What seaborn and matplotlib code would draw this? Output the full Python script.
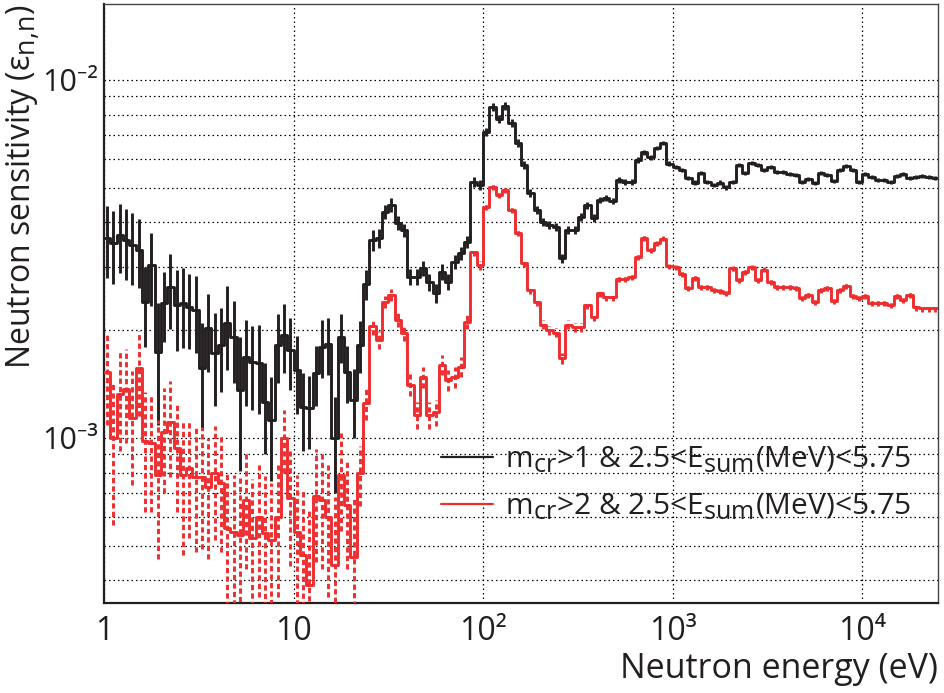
import numpy as np
import pandas as pd
import matplotlib
matplotlib.use("Agg")
import matplotlib.pyplot as plt
import matplotlib._mathtext as mathtext_engine
from matplotlib.lines import Line2D
from matplotlib.ticker import FixedLocator, LogLocator, NullFormatter
import seaborn as sns

# Histogram binning: 30 logarithmic bins per decade, 1 eV .. 10^4.4 eV
bins_per_decade = 30
n_bins = 132
log_e_min, log_e_max = 0.0, 4.4

# Neutron sensitivity, multiplicity > 1
sens_mcr1 = [
    3.62e-3, 3.50e-3, 3.69e-3, 3.57e-3, 3.46e-3, 3.35e-3, 2.40e-3, 3.04e-3, 1.74e-3, 2.38e-3,
    2.64e-3, 2.35e-3, 2.38e-3, 2.32e-3, 2.28e-3, 1.57e-3, 2.03e-3, 1.73e-3, 1.82e-3, 2.10e-3,
    1.92e-3, 1.36e-3, 1.68e-3, 1.63e-3, 1.62e-3, 1.26e-3, 1.12e-3, 1.82e-3, 1.94e-3, 1.76e-3,
    1.55e-3, 1.22e-3, 1.21e-3, 1.52e-3, 1.80e-3, 1.83e-3, 1.00e-3, 1.92e-3, 1.53e-3, 1.28e-3,
    1.82e-3, 2.69e-3, 3.57e-3, 3.62e-3, 4.28e-3, 4.47e-3, 3.98e-3, 3.81e-3, 2.82e-3, 2.82e-3,
    2.98e-3, 2.73e-3, 2.54e-3, 2.91e-3, 2.73e-3, 3.10e-3, 3.28e-3, 3.53e-3, 5.19e-3, 5.09e-3,
    7.16e-3, 8.41e-3, 7.78e-3, 8.46e-3, 7.58e-3, 6.67e-3, 5.79e-3, 4.84e-3, 4.33e-3, 4.01e-3,
    3.94e-3, 3.89e-3, 3.18e-3, 3.81e-3, 3.81e-3, 4.14e-3, 4.47e-3, 4.12e-3, 4.62e-3, 4.68e-3,
    4.59e-3, 5.26e-3, 5.19e-3, 5.19e-3, 5.98e-3, 6.29e-3, 6.09e-3, 6.46e-3, 6.67e-3, 5.83e-3,
    5.71e-3, 5.61e-3, 5.32e-3, 5.16e-3, 5.50e-3, 5.19e-3, 5.09e-3, 5.16e-3, 5.02e-3, 5.19e-3,
    5.79e-3, 5.50e-3, 5.86e-3, 5.79e-3, 5.61e-3, 5.71e-3, 5.53e-3, 5.53e-3, 5.46e-3, 5.43e-3,
    5.19e-3, 5.29e-3, 5.16e-3, 5.50e-3, 5.43e-3, 5.22e-3, 5.61e-3, 5.75e-3, 5.61e-3, 5.19e-3,
    5.46e-3, 5.36e-3, 5.26e-3, 5.26e-3, 5.19e-3, 5.39e-3, 5.46e-3, 5.32e-3, 5.36e-3, 5.39e-3,
    5.36e-3, 5.32e-3,
]
err_mcr1 = [
    0.82e-3, 0.80e-3, 0.80e-3, 0.80e-3, 0.78e-3, 0.73e-3, 0.60e-3, 0.70e-3, 0.65e-3, 0.53e-3,
    0.62e-3, 0.60e-3, 0.60e-3, 0.55e-3, 0.55e-3, 0.52e-3, 0.50e-3, 0.50e-3, 0.48e-3, 0.55e-3,
    0.50e-3, 0.55e-3, 0.45e-3, 0.43e-3, 0.45e-3, 0.36e-3, 0.36e-3, 0.40e-3, 0.42e-3, 0.40e-3,
    0.38e-3, 0.30e-3, 0.28e-3, 0.29e-3, 0.33e-3, 0.33e-3, 0.30e-3, 0.30e-3, 0.28e-3, 0.28e-3,
    0.30e-3, 0.26e-3, 0.25e-3, 0.22e-3, 0.20e-3, 0.20e-3, 0.18e-3, 0.16e-3, 0.15e-3, 0.15e-3,
    0.15e-3, 0.15e-3, 0.15e-3, 0.15e-3, 0.14e-3, 0.14e-3, 0.14e-3, 0.14e-3, 0.16e-3, 0.16e-3,
    0.18e-3, 0.20e-3, 0.19e-3, 0.20e-3, 0.18e-3, 0.16e-3, 0.14e-3, 0.12e-3, 0.11e-3, 0.10e-3,
    0.10e-3, 0.10e-3, 0.09e-3, 0.10e-3, 0.10e-3, 0.10e-3, 0.10e-3, 0.10e-3, 0.10e-3, 0.10e-3,
    0.10e-3, 0.10e-3, 0.10e-3, 0.10e-3, 0.10e-3, 0.10e-3, 0.10e-3, 0.10e-3, 0.10e-3, 0.09e-3,
    0.08e-3, 0.08e-3, 0.08e-3, 0.08e-3, 0.08e-3, 0.08e-3, 0.08e-3, 0.08e-3, 0.08e-3, 0.08e-3,
    0.08e-3, 0.08e-3, 0.08e-3, 0.08e-3, 0.08e-3, 0.08e-3, 0.08e-3, 0.08e-3, 0.08e-3, 0.08e-3,
    0.07e-3, 0.07e-3, 0.07e-3, 0.07e-3, 0.07e-3, 0.07e-3, 0.07e-3, 0.07e-3, 0.07e-3, 0.07e-3,
    0.07e-3, 0.07e-3, 0.07e-3, 0.07e-3, 0.07e-3, 0.07e-3, 0.07e-3, 0.07e-3, 0.07e-3, 0.07e-3,
    0.07e-3, 0.07e-3,
]

# Neutron sensitivity, multiplicity > 2
sens_mcr2 = [
    1.53e-3, 1.00e-3, 1.33e-3, 1.37e-3, 1.14e-3, 1.57e-3, 0.98e-3, 0.97e-3, 7.90e-4, 1.04e-3,
    1.11e-3, 9.40e-4, 7.90e-4, 8.24e-4, 7.80e-4, 7.80e-4, 7.30e-4, 8.00e-4, 7.50e-4, 5.61e-4,
    5.47e-4, 5.37e-4, 6.70e-4, 5.27e-4, 6.00e-4, 5.43e-4, 5.20e-4, 6.00e-4, 1.00e-3, 6.80e-4,
    5.47e-4, 4.71e-4, 3.89e-4, 6.89e-4, 6.70e-4, 6.00e-4, 4.42e-4, 7.90e-4, 6.50e-4, 4.65e-4,
    7.97e-4, 1.25e-3, 2.05e-3, 1.88e-3, 2.40e-3, 2.51e-3, 2.14e-3, 1.97e-3, 1.41e-3, 1.16e-3,
    1.48e-3, 1.16e-3, 1.18e-3, 1.60e-3, 1.45e-3, 1.48e-3, 1.58e-3, 2.11e-3, 3.31e-3, 3.04e-3,
    4.42e-3, 5.02e-3, 4.77e-3, 4.93e-3, 4.33e-3, 3.74e-3, 3.08e-3, 2.59e-3, 2.40e-3, 2.07e-3,
    2.00e-3, 1.97e-3, 1.67e-3, 2.07e-3, 2.04e-3, 2.04e-3, 2.35e-3, 2.18e-3, 2.54e-3, 2.48e-3,
    2.48e-3, 2.78e-3, 2.78e-3, 2.82e-3, 3.20e-3, 3.62e-3, 3.35e-3, 3.50e-3, 3.60e-3, 3.02e-3,
    3.00e-3, 2.87e-3, 2.62e-3, 2.80e-3, 2.64e-3, 2.64e-3, 2.59e-3, 2.57e-3, 2.54e-3, 2.98e-3,
    2.76e-3, 2.91e-3, 3.00e-3, 2.76e-3, 2.95e-3, 2.73e-3, 2.64e-3, 2.64e-3, 2.64e-3, 2.62e-3,
    2.46e-3, 2.51e-3, 2.40e-3, 2.59e-3, 2.62e-3, 2.41e-3, 2.59e-3, 2.66e-3, 2.50e-3, 2.46e-3,
    2.50e-3, 2.38e-3, 2.38e-3, 2.38e-3, 2.35e-3, 2.50e-3, 2.43e-3, 2.51e-3, 2.32e-3, 2.30e-3,
    2.30e-3, 2.30e-3,
]
err_mcr2 = [
    0.44e-3, 0.43e-3, 0.41e-3, 0.40e-3, 0.40e-3, 0.42e-3, 0.36e-3, 0.35e-3, 0.33e-3, 0.34e-3,
    0.33e-3, 0.32e-3, 0.32e-3, 0.30e-3, 0.30e-3, 0.29e-3, 0.27e-3, 0.28e-3, 0.27e-3, 0.24e-3,
    0.24e-3, 0.24e-3, 0.24e-3, 0.24e-3, 0.24e-3, 0.24e-3, 0.23e-3, 0.24e-3, 0.20e-3, 0.24e-3,
    0.24e-3, 0.24e-3, 0.24e-3, 0.24e-3, 0.24e-3, 0.24e-3, 0.24e-3, 0.24e-3, 0.22e-3, 0.22e-3,
    0.15e-3, 0.13e-3, 0.11e-3, 0.11e-3, 0.10e-3, 0.10e-3, 0.10e-3, 0.10e-3, 0.10e-3, 0.10e-3,
    0.10e-3, 0.10e-3, 0.10e-3, 0.10e-3, 0.10e-3, 0.10e-3, 0.10e-3, 0.09e-3, 0.09e-3, 0.09e-3,
    0.09e-3, 0.09e-3, 0.09e-3, 0.09e-3, 0.08e-3, 0.08e-3, 0.07e-3, 0.07e-3, 0.06e-3, 0.06e-3,
    0.06e-3, 0.06e-3, 0.06e-3, 0.06e-3, 0.06e-3, 0.06e-3, 0.06e-3, 0.06e-3, 0.06e-3, 0.06e-3,
    0.06e-3, 0.06e-3, 0.06e-3, 0.06e-3, 0.06e-3, 0.06e-3, 0.06e-3, 0.06e-3, 0.06e-3, 0.05e-3,
    0.05e-3, 0.05e-3, 0.05e-3, 0.05e-3, 0.05e-3, 0.05e-3, 0.05e-3, 0.05e-3, 0.05e-3, 0.05e-3,
    0.05e-3, 0.05e-3, 0.05e-3, 0.05e-3, 0.05e-3, 0.05e-3, 0.05e-3, 0.05e-3, 0.05e-3, 0.05e-3,
    0.05e-3, 0.05e-3, 0.05e-3, 0.05e-3, 0.05e-3, 0.05e-3, 0.05e-3, 0.05e-3, 0.05e-3, 0.05e-3,
    0.05e-3, 0.05e-3, 0.05e-3, 0.05e-3, 0.05e-3, 0.05e-3, 0.05e-3, 0.05e-3, 0.05e-3, 0.05e-3,
    0.05e-3, 0.05e-3,
]

labels = [
    r"m$_{\mathregular{cr}}$>1 & 2.5<E$_{\mathregular{sum}}$(MeV)<5.75",
    r"m$_{\mathregular{cr}}$>2 & 2.5<E$_{\mathregular{sum}}$(MeV)<5.75",
]
x_ticks = [1, 10, 100, 1000, 10000]
x_ticklabels = ["1", "10", "10\u00b2", "10\u00b3", "10\u2074"]
y_ticks = [1e-3, 1e-2]
y_ticklabels = ["10\u207b\u00b3", "10\u207b\u00b2"]
y_limits = (3.46e-4, 1.63e-2)

BLACK = "#231f20"
RED = "#ee2d2f"

sns.set_theme(style="white")
plt.rcParams["font.family"] = ["Open Sans", "Noto Sans", "DejaVu Sans"]
plt.rcParams["mathtext.fontset"] = "custom"
plt.rcParams["mathtext.rm"] = "Open Sans"
# larger sub/superscripts in the legend and axis title
mathtext_engine.SHRINK_FACTOR = 0.84

fig = plt.figure(figsize=(9.44, 6.93), dpi=100)
ax = fig.add_axes([104 / 944, 1 - 603 / 693, 834 / 944, 599 / 693])
ax.set_xscale("log")
ax.set_yscale("log")

edges = np.logspace(log_e_min, log_e_max, n_bins + 1)
centers = np.sqrt(edges[:-1] * edges[1:])

series = [
    (sens_mcr1, err_mcr1, BLACK, "-"),
    (sens_mcr2, err_mcr2, RED, (0, (1.8, 1.1))),
]
for vals, errs, color, err_style in series:
    vals = np.asarray(vals)
    steps = pd.DataFrame({"energy": edges, "sens": np.append(vals, vals[-1])})
    sns.lineplot(data=steps, x="energy", y="sens", drawstyle="steps-post",
                 color=color, lw=2.1, estimator=None, sort=False, ax=ax,
                 legend=False, zorder=3)
    eb = ax.errorbar(centers, vals, yerr=errs, fmt="none", ecolor=color,
                     elinewidth=2.1, capsize=0, zorder=3)
    eb[2][0].set_linestyle(err_style)

ax.set_xlim(edges[0], edges[-1])
ax.set_ylim(*y_limits)

# grid: dotted, every y decade subdivision, x decades only
grid_kw = dict(color="black", linestyle=(0, (1.2, 2.4)), linewidth=0.9, zorder=1)
ax.grid(False)
ax.grid(True, which="major", axis="both", **grid_kw)
ax.grid(True, which="minor", axis="y", **grid_kw)
ax.set_axisbelow(True)

ax.xaxis.set_major_locator(FixedLocator(x_ticks))
ax.set_xticklabels(x_ticklabels)
ax.xaxis.set_minor_locator(LogLocator(base=10, subs=np.arange(2, 10), numticks=20))
ax.xaxis.set_minor_formatter(NullFormatter())
ax.yaxis.set_major_locator(FixedLocator(y_ticks))
ax.set_yticklabels(y_ticklabels)
ax.yaxis.set_minor_locator(LogLocator(base=10, subs=np.arange(2, 10), numticks=20))
ax.yaxis.set_minor_formatter(NullFormatter())

ax.tick_params(which="both", direction="in", top=False, right=False,
               color=BLACK, width=1.3)
ax.tick_params(axis="y", which="major", length=17, pad=4, labelsize=22, labelcolor=BLACK)
ax.tick_params(axis="y", which="minor", length=8.5)
ax.tick_params(axis="x", which="major", length=14, pad=9, labelsize=23, labelcolor=BLACK)
ax.tick_params(axis="x", which="minor", length=6.5)

for side in ("left", "bottom"):
    ax.spines[side].set_color(BLACK)
    ax.spines[side].set_linewidth(1.6)
for side in ("top", "right"):
    ax.spines[side].set_color("#444444")
    ax.spines[side].set_linewidth(1.0)

ax.set_xlabel("Neutron energy (eV)", fontsize=24.5, color=BLACK, loc="right")
ax.xaxis.set_label_coords(1.0, -0.082)
ax.set_ylabel("Neutron sensitivity (ε$_{\\mathregular{n{,}n}}$)", fontsize=23,
              color=BLACK, loc="top")
ax.yaxis.set_label_coords(-0.073, 1.0)

handles = [Line2D([], [], color=BLACK, lw=1.6), Line2D([], [], color=RED, lw=1.6)]
ax.legend(handles, labels, loc="center left", bbox_to_anchor=(0.404, 0.200),
          frameon=False, fontsize=21.5, handlelength=1.75, handletextpad=0.4,
          labelspacing=0.55, borderpad=0, borderaxespad=0, labelcolor=BLACK)

fig.savefig("out.png", dpi=100, facecolor="white")
